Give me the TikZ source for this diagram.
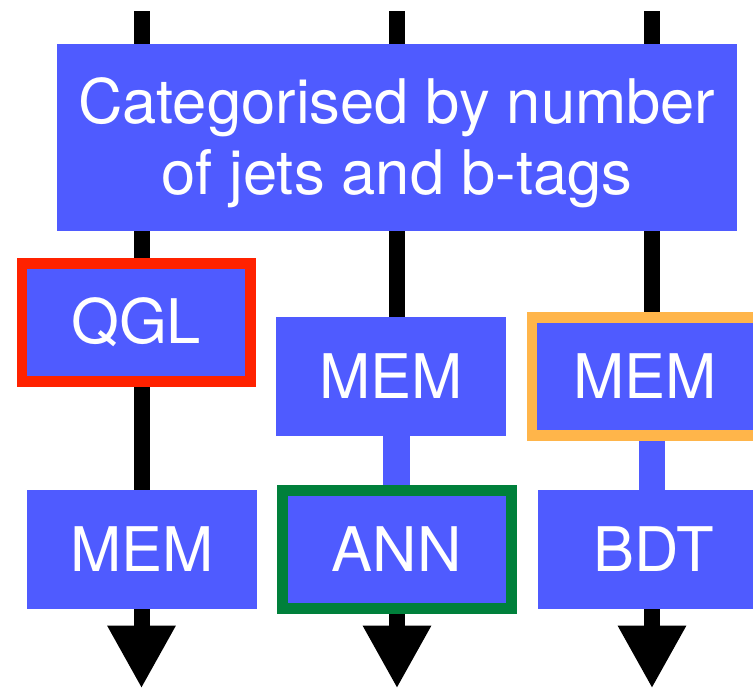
\documentclass[tikz,border=0pt]{standalone}
\usepackage{fontspec}
\setmainfont{TeX Gyre Heros}
\usetikzlibrary{arrows.meta}
\definecolor{mblue}{HTML}{4F5BFF}
\definecolor{mred}{HTML}{FF2200}
\definecolor{morange}{HTML}{FFB54A}
\definecolor{mgreen}{HTML}{00803B}
\pgfdeclarelayer{background}
\pgfsetlayers{background,main}
\tikzset{
  box/.style={fill=mblue, inner sep=0pt, outer sep=0pt, text=white, align=center,
    font=\fontsize{61.5}{71}\selectfont},
  framed/.style={box, line width=10.7pt, draw=#1},
  flow/.style={line width=16pt, -{Triangle[width=64pt,length=63pt]}},
  link/.style={line width=26.7pt, mblue}
}
\begin{document}
\begin{tikzpicture}[x=1pt,y=-1pt]
\useasboundingbox (0,0) rectangle (753,692);
\clip (0,0) rectangle (753,692);
% coordinates
\coordinate (t1) at (141.5,11.5);
\coordinate (t2) at (397,11.5);
\coordinate (t3) at (652,11.5);
\coordinate (e1) at (141.5,688.5);
\coordinate (e2) at (397,688.5);
\coordinate (e3) at (652,688.5);
% nodes
\node[box, minimum width=679.7pt, minimum height=186.7pt] (cat) at (396.8,137.3)
  {\rule{0pt}{56pt}Categorised by number\\of jets and b-tags};
\node[framed=mred, minimum width=228.3pt, minimum height=117.7pt] (qgl) at (136.2,322.5) {QGL};
\node[box, minimum width=229.4pt, minimum height=119pt] (mem1) at (142,549.5) {MEM};
\node[box, minimum width=229.7pt, minimum height=119pt] (mem2) at (390.9,376.2) {MEM};
\node[framed=morange, minimum width=226pt, minimum height=118pt] (mem3) at (645,376.4) {MEM};
\node[framed=mgreen, minimum width=229pt, minimum height=118pt] (ann) at (396.7,549.5) {ANN};
\node[box, minimum width=233pt, minimum height=119pt] (bdt) at (654,549.5) {BDT};
% connectors
\begin{pgfonlayer}{background}
  \draw[flow] (t1) -- (e1);
  \draw[flow] (t2) -- (e2);
  \draw[flow] (t3) -- (e3);
  \draw[link] (mem2.south -| ann.north) -- (ann.north);
  \draw[link] (t3 |- mem3.south) -- (t3 |- bdt.north);
\end{pgfonlayer}
\end{tikzpicture}
\end{document}
